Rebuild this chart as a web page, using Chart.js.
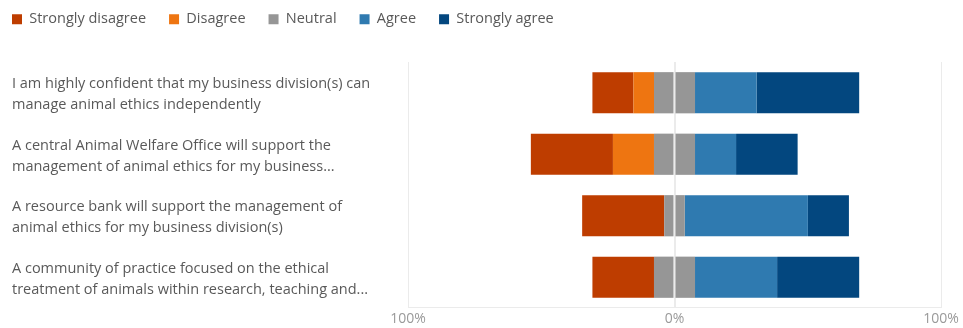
<!doctype html><html lang="en">
<head>
<meta charset="utf-8">
<title>Animal ethics survey</title>
<script src="https://cdn.jsdelivr.net/npm/chart.js@4"></script>
<style>
html,body{margin:0;padding:0;background:#fff;overflow:hidden}
/* canvas shifted 11px up/left so the legend's outer padding matches its item gap */
#wrap{position:absolute;left:-11px;top:-11px;width:974px;height:343px}
</style>
</head>
<body>
<div id="wrap"><canvas id="c"></canvas></div>
<script>
const categories=[
  ['I am highly confident that my business division(s) can','manage animal ethics independently'],
  ['A central Animal Welfare Office will support the','management of animal ethics for my business...'],
  ['A resource bank will support the management of','animal ethics for my business division(s)'],
  ['A community of practice focused on the ethical','treatment of animals within research, teaching and...']
];
// percent of respondents
const stronglyDisagree=[15.4,30.8,30.8,23.1];
const disagree=[7.7,15.4,0,0];
const neutral=[15.4,15.4,7.7,15.4];
const agree=[23.1,15.4,46.2,30.8];
const stronglyAgree=[38.5,23.1,15.4,30.8];

const colors={sd:'#be3d00',d:'#ee7511',n:'#969696',a:'#2f7ab0',sa:'#03477f'};
const txt='#595959';
const font="'Open Sans', sans-serif";

// negative stacks build outwards from 0, so neutral-left comes first
const datasets=[
  {label:'Neutral',data:neutral.map(v=>-v/2),backgroundColor:colors.n,rank:2},
  {label:'Disagree',data:disagree.map(v=>-v),backgroundColor:colors.d,rank:1},
  {label:'Strongly disagree',data:stronglyDisagree.map(v=>-v),backgroundColor:colors.sd,rank:0},
  {label:'Neutral',data:neutral.map(v=>v/2),backgroundColor:colors.n,rank:-1},
  {label:'Agree',data:agree,backgroundColor:colors.a,rank:3},
  {label:'Strongly agree',data:stronglyAgree,backgroundColor:colors.sa,rank:4}
];

// legend: fixed height, and ignore the left layout padding (kept for the y labels)
const legendBox={id:'legendBox',
  beforeInit(chart){
    const fit=chart.legend.fit;
    chart.legend.fit=function(){fit.call(this);this.height=73};
  },
  afterLayout(chart){chart.legend.left=0}
};

new Chart(document.getElementById('c'),{
  type:'bar',
  data:{labels:categories,datasets},
  options:{
    indexAxis:'y',
    responsive:true,maintainAspectRatio:false,animation:false,
    layout:{padding:{left:23,right:22,top:0,bottom:0}},
    datasets:{bar:{barPercentage:1,categoryPercentage:0.67,borderWidth:0}},
    plugins:{
      legend:{position:'top',align:'start',
        labels:{boxWidth:10,boxHeight:10,padding:23,color:txt,font:{family:font,size:14.5},
          filter:(it,d)=>d.datasets[it.datasetIndex].rank>=0,
          sort:(a,b,d)=>d.datasets[a.datasetIndex].rank-d.datasets[b.datasetIndex].rank}},
      tooltip:{enabled:false}
    },
    scales:{
      x:{stacked:true,min:-100,max:100,z:1,
        grid:{color:'#ebebeb',drawTicks:false,lineWidth:c=>c.tick&&c.tick.value===0?2:1},
        border:{display:true,color:'#ebebeb'},
        ticks:{stepSize:100,padding:3,color:'#9a9a9a',font:{family:font,size:14},
          callback:v=>Math.abs(v)+'%'}},
      y:{stacked:true,
        grid:{display:false},border:{display:false},
        afterFit:s=>{s.width=396},
        ticks:{crossAlign:'far',labelOffset:2,color:txt,font:{family:font,size:14.5,lineHeight:1.45}}}
    }
  },
  plugins:[legendBox]
});
</script>
</body></html>
